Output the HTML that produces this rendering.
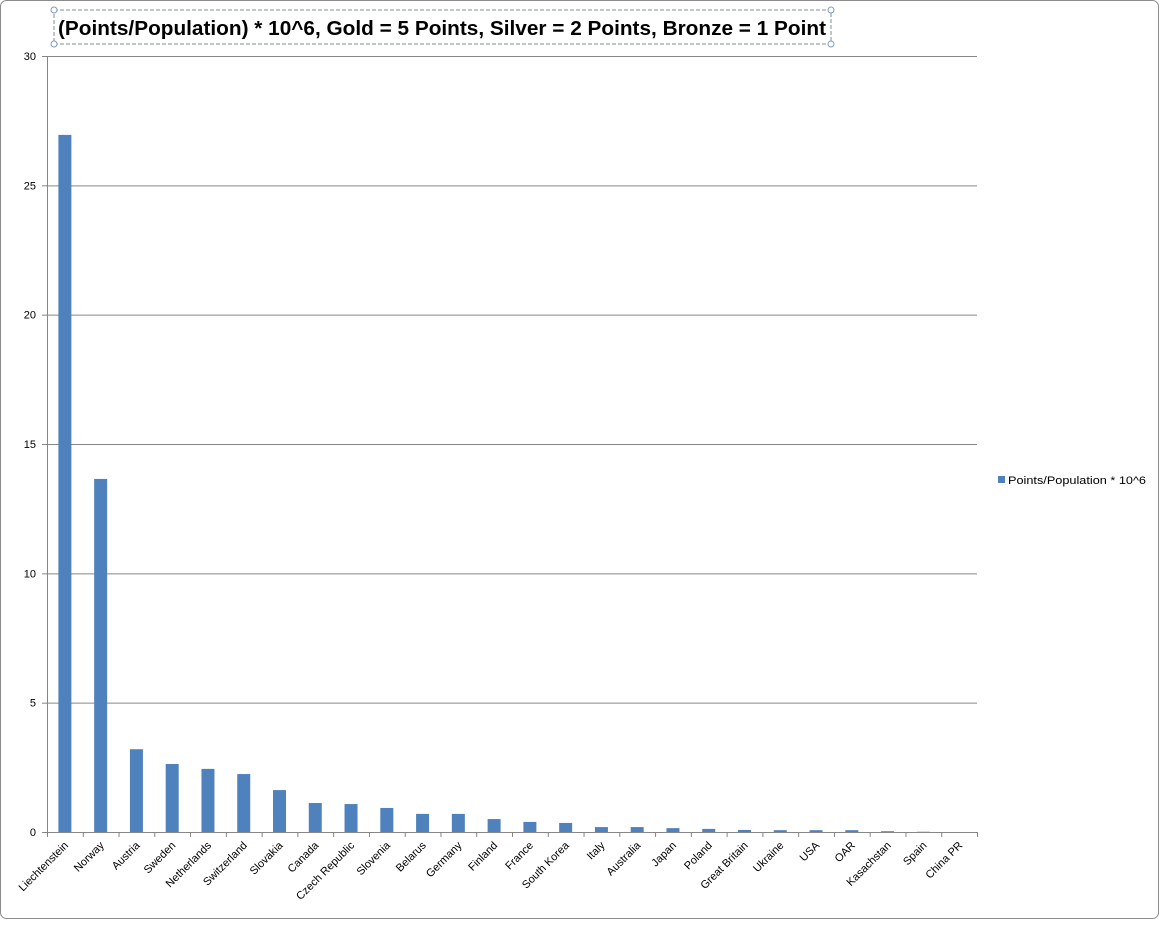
<!DOCTYPE html>
<html><head><meta charset="utf-8"><style>
body{margin:0;background:#fff;font-family:"Liberation Sans",sans-serif;}
#wrap{position:relative;width:1160px;height:920px;}
</style></head><body>
<div id="wrap">
<svg id="chart" width="1160" height="920">
<rect x="0.5" y="0.5" width="1158" height="918" rx="6" fill="#fff" stroke="#8c8c8c"/>
<rect x="54" y="10" width="777" height="34" fill="none" stroke="#7f8c9c" stroke-dasharray="4,2"/>
<text x="442" y="35" text-anchor="middle" font-size="20" font-weight="bold" fill="#000" textLength="768" lengthAdjust="spacingAndGlyphs">(Points/Population) * 10^6, Gold = 5 Points, Silver = 2 Points, Bronze = 1 Point</text>
<circle cx="54" cy="10" r="3" fill="#fff" stroke="#7f9cba"/>
<circle cx="831" cy="10" r="3" fill="#fff" stroke="#7f9cba"/>
<circle cx="54" cy="44" r="3" fill="#fff" stroke="#7f9cba"/>
<circle cx="831" cy="44" r="3" fill="#fff" stroke="#7f9cba"/>
<g id="grid"></g><g id="bars"></g><g id="axes"></g>
<rect x="998" y="476" width="7" height="7" fill="#4f81bd"/>
<text x="1008" y="484" font-size="11" fill="#000" textLength="138" lengthAdjust="spacingAndGlyphs">Points/Population * 10^6</text>
</svg>
</div>
<script>
const categories=["Liechtenstein","Norway","Austria","Sweden","Netherlands","Switzerland","Slovakia","Canada","Czech Republic","Slovenia","Belarus","Germany","Finland","France","South Korea","Italy","Australia","Japan","Poland","Great Britain","Ukraine","USA","OAR","Kasachstan","Spain","China PR"];
const values=[26.95,13.65,3.2,2.63,2.44,2.24,1.62,1.12,1.08,0.93,0.7,0.7,0.5,0.39,0.35,0.19,0.19,0.15,0.12,0.08,0.07,0.07,0.07,0.03,0.01,0];
const yTicks=[0,5,10,15,20,25,30];
const NS="http://www.w3.org/2000/svg";
const X0=47,X1=977,Y0=832,Y1=56,YMAX=30;
const step=(X1-X0)/categories.length;
function y(v){return Y0-(v/YMAX)*(Y0-Y1);}
function xc(i){return X0+step*(i+0.5);}
function mk(t,a,p){const e=document.createElementNS(NS,t);for(const k in a)e.setAttribute(k,a[k]);p.appendChild(e);return e;}
const grid=document.getElementById('grid'),bars=document.getElementById('bars'),axes=document.getElementById('axes');
yTicks.forEach(t=>{
  const l=mk('line',{x1:X0,x2:X1,y1:y(t)+0.5,y2:y(t)+0.5,stroke:'#868686'},grid);
  
  
  const tk=mk('line',{x1:X0-5,x2:X0,y1:y(t)+0.5,y2:y(t)+0.5,stroke:'#868686'},axes);
  
  
  const tx=mk('text',{x:X0-11,y:y(t)+4,'text-anchor':'end','font-size':11,fill:'#000'},axes);
  tx.textContent=t;
  
  
});
const ya=mk('line',{x1:X0+0.5,x2:X0+0.5,y1:Y1,y2:Y0,stroke:'#868686'},axes);


const bw=13;
categories.forEach((c,i)=>{
  const b=mk('rect',{x:xc(i)-bw/2,y:y(values[i]),width:bw,height:Y0-y(values[i]),fill:'#4f81bd'},bars);
  
  
  const tk=mk('line',{x1:X0+step*(i+1)+0.5,x2:X0+step*(i+1)+0.5,y1:Y0,y2:Y0+5,stroke:'#868686'},axes);
  
  
  const tx=mk('text',{x:0,y:0,'text-anchor':'end','font-size':11,fill:'#000',transform:`translate(${xc(i)+4},${Y0+14}) rotate(-45)`},axes);
  tx.textContent=c;
  
  
});
const tk0=mk('line',{x1:X0+0.5,x2:X0+0.5,y1:Y0,y2:Y0+5,stroke:'#868686'},axes);


</script>
</body></html>
